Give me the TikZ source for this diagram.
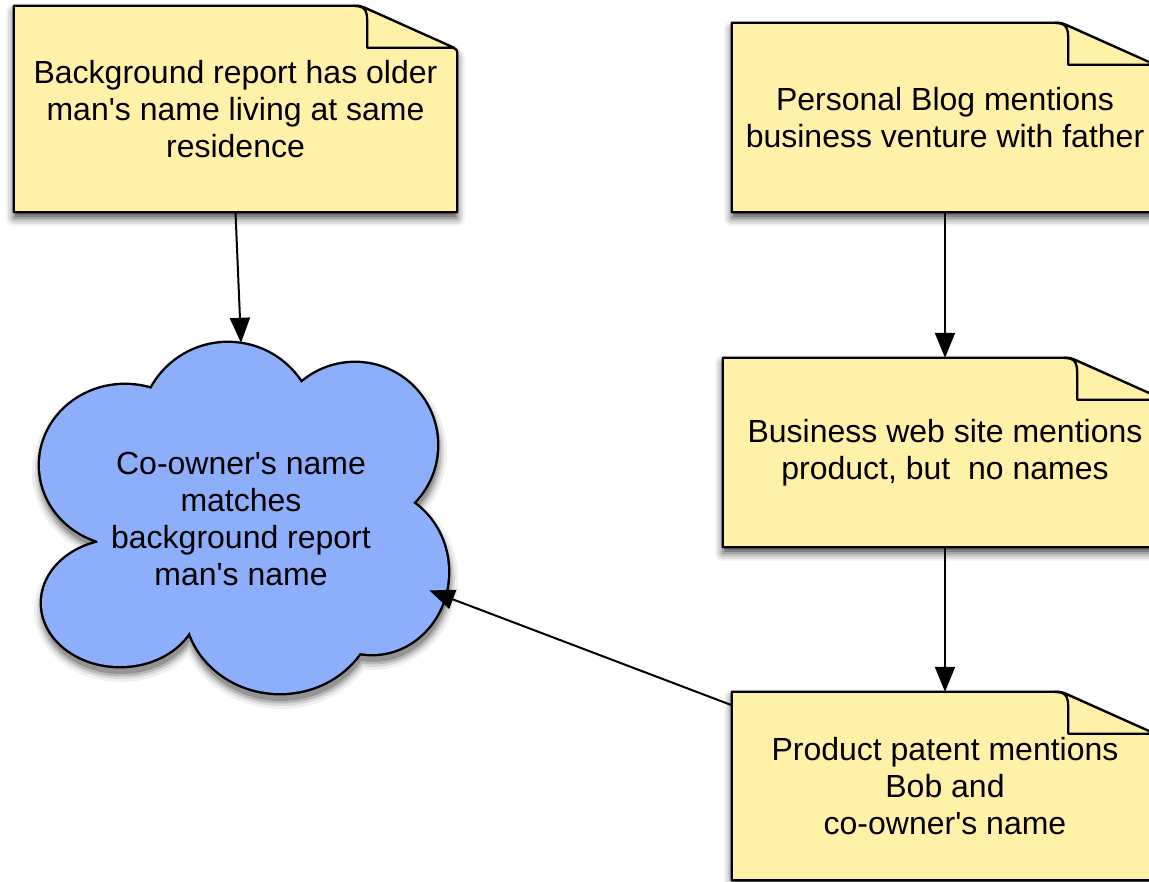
\documentclass[tikz,border=0pt]{standalone}
\usepackage{fontspec}
\setmainfont{Liberation Sans}[Ligatures=TeXOff]
\usetikzlibrary{arrows.meta,calc,backgrounds,shapes.geometric,shadows.blur}
\definecolor{noteyellow}{HTML}{FFF2A8}
\definecolor{cloudblue}{HTML}{8DAEFB}
\tikzset{
  notebox/.style={rectangle, align=center, inner sep=0pt, font=\fontsize{32}{37}\selectfont},
  paperfill/.style={fill=noteyellow, draw=black, line width=2.3pt, line join=round,
    blur shadow={shadow xshift=0pt, shadow yshift=-6pt, shadow blur radius=8pt, shadow opacity=70}},
  flapline/.style={fill=noteyellow, draw=black, line width=2.3pt, line join=round},
  arr/.style={line width=2pt, -{Triangle[length=25pt,width=20pt]}},
}
\newcommand\paper[1]{%
  \begin{scope}[on background layer]
    \path[paperfill] (#1.south west) -- (#1.north west)
      -- ($(#1.north east)+(-110,0)$) .. controls ($(#1.north east)+(-97,0)$) .. ($(#1.north east)+(-88,4)$)
      -- ($(#1.north east)+(-4,42)$) .. controls ($(#1.north east)+(0,44)$) .. ($(#1.north east)+(0,50)$)
      -- (#1.south east) -- cycle;
    \path[flapline] ($(#1.north east)+(-103,0)$) .. controls ($(#1.north east)+(-90,0)$) and ($(#1.north east)+(-90,8)$) .. ($(#1.north east)+(-90,18)$)
      -- ($(#1.north east)+(-90,42)$) -- ($(#1.north east)+(-3,42)$) -- ($(#1.north east)+(-88,4)$) .. controls ($(#1.north east)+(-97,0)$) .. cycle;
  \end{scope}}
\newcommand\cloudparts[1]{%
  \path[#1] (228,430) circle[radius=87pt] (355,445) circle[radius=82pt]
    (372,572) ellipse[x radius=76pt, y radius=82pt]
    (280,605) ellipse[x radius=95pt, y radius=88pt]
    (120,603) ellipse[x radius=78pt, y radius=63pt]
    (125,465) ellipse[x radius=85pt, y radius=80pt];}
\begin{document}
\begin{tikzpicture}[x=1pt,y=-1pt]
\path[use as bounding box] (0,0) rectangle (1149,882);
% cloud
\cloudparts{fill=black!6, draw=black!6, line width=18pt, shift={(1,7)}}
\cloudparts{fill=black!15, draw=black!15, line width=12pt, shift={(1,7)}}
\cloudparts{fill=black!28, draw=black!28, line width=7pt, shift={(1,7)}}
\cloudparts{fill=black!42, draw=black!42, line width=2pt, shift={(1,7)}}
\cloudparts{draw=black, line width=4.8pt}
\cloudparts{fill=cloudblue}
\fill[cloudblue] (245,520) ellipse[x radius=150pt, y radius=120pt];
\node[ellipse, minimum width=412, minimum height=352, align=center, inner sep=0pt,
  font=\fontsize{32}{37}\selectfont] (cloud) at (241,519)
  {Co-owner's name\\matches\\background report\\man's name};
% notes
\node[notebox, minimum width=443, minimum height=206] (a) at (235.5,109)
  {Background report has older\\man's name living at same\\residence};
\paper{a}
\node[notebox, minimum width=426, minimum height=189] (b) at (945,117.5)
  {Personal Blog mentions\\business venture with father};
\paper{b}
\node[notebox, minimum width=444, minimum height=189] (c) at (945,452.5)
  {Business web site mentions\\product, but\ \ no names};
\paper{c}
\node[notebox, minimum width=426, minimum height=188] (d) at (945,786)
  {Product patent mentions\\Bob and\\co-owner's name};
\paper{d}
% connectors
\draw[arr] (a.south) -- (cloud.north);
\draw[arr] (b.south) -- (c.north);
\draw[arr] (c.south) -- (d.north);
\draw[arr] (d) -- (cloud);
\end{tikzpicture}
\end{document}
